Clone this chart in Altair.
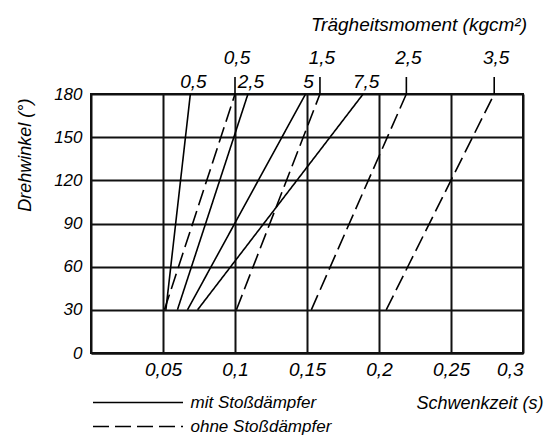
import altair as alt
import pandas as pd

# Data
solid_labels = ["0,5", "2,5", "5", "7,5"]          # Trägheitsmoment, mit Stoßdämpfer
solid_t30 = [0.052, 0.060, 0.067, 0.074]            # Schwenkzeit at 30°
solid_t180 = [0.069, 0.109, 0.149, 0.189]           # Schwenkzeit at 180°

dashed_labels = ["0,5", "1,5", "2,5", "3,5"]        # ohne Stoßdämpfer
dashed_t30 = [0.051, 0.101, 0.153, 0.205]
dashed_t180 = [0.100, 0.159, 0.219, 0.280]

angles = [30, 180]
x_ticks = [0.05, 0.1, 0.15, 0.2, 0.25, 0.3]
y_ticks = [0, 30, 60, 90, 120, 150, 180]

MIT = "mit Stoßdämpfer"
OHNE = "ohne Stoßdämpfer"

rows = []
for kind, labs, t0, t1 in [(MIT, solid_labels, solid_t30, solid_t180),
                           (OHNE, dashed_labels, dashed_t30, dashed_t180)]:
    for lab, a, b in zip(labs, t0, t1):
        rows.append({"typ": kind, "serie": kind + lab, "label": lab, "winkel": angles[0], "zeit": a})
        rows.append({"typ": kind, "serie": kind + lab, "label": lab, "winkel": angles[1], "zeit": b})
df = pd.DataFrame(rows)
ends = df[df["winkel"] == 180]

FONT = "Liberation Sans"

x_enc = alt.X("zeit:Q", scale=alt.Scale(domain=[0, 0.3], nice=False, zero=False),
              axis=alt.Axis(values=x_ticks, labelExpr="replace(toString(datum.value), '.', ',')",
                            title="Schwenkzeit (s)", titleAnchor="end", titleAlign="right",
                            titleX=452, titleY=50, titleBaseline="middle",
                            ticks=False, labelPadding=7, grid=True))
y_enc = alt.Y("winkel:Q", scale=alt.Scale(domain=[0, 180], nice=False),
              axis=alt.Axis(values=y_ticks, title="Drehwinkel (°)", titleAngle=270,
                            titleX=-66, titleY=4, titleAlign="right", titleBaseline="middle",
                            ticks=False, labelPadding=9, grid=True, labelFontSize=17))

lines = alt.Chart(df).mark_line(color="black", strokeWidth=1.6).encode(
    x=x_enc,
    y=y_enc,
    detail="serie:N",
    strokeDash=alt.StrokeDash(
        "typ:N",
        scale=alt.Scale(domain=[MIT, OHNE], range=[[1, 0], [16, 6]]),
        legend=alt.Legend(title=None, orient="none", legendX=-6.5, legendY=300, padding=0,
                          symbolType="M0,0H20", symbolSize=81, symbolStrokeWidth=1.6,
                          symbolStrokeColor="black", labelFontSize=17, labelFont=FONT,
                          labelFontStyle="italic", labelOffset=89, rowPadding=6,
                          labelColor="black"),
    ),
)

solid_text = alt.Chart(ends[ends["typ"] == MIT]).mark_text(
    font=FONT, fontStyle="italic", fontSize=19, dy=-12, dx=3, baseline="middle"
).encode(x="zeit:Q", y="winkel:Q", text="label:N")

dashed_text = alt.Chart(ends[ends["typ"] == OHNE]).mark_text(
    font=FONT, fontStyle="italic", fontSize=19, dy=-36, dx=2, baseline="middle"
).encode(x="zeit:Q", y="winkel:Q", text="label:N")

leaders = alt.Chart(ends[ends["typ"] == OHNE]).mark_rule(color="black", strokeWidth=1.6).encode(
    x="zeit:Q", y="winkel:Q", y2=alt.value(-17)
)

chart = alt.layer(lines, leaders, solid_text, dashed_text).properties(
    width=432, height=259,
    title=alt.TitleParams("Trägheitsmoment (kgcm²)", anchor="end", frame="group", font=FONT,
                          fontStyle="italic", fontSize=19, fontWeight="normal", offset=14, dx=4),
    autosize=alt.AutoSizeParams(type="none"),
    padding={"left": 83, "top": 86, "right": 24, "bottom": 83},
).configure_view(stroke="#111", strokeWidth=2).configure_axis(
    gridColor="#111", gridWidth=2, gridOpacity=1, domainColor="#111", domainWidth=2,
    labelFont=FONT, labelFontStyle="italic", labelFontSize=19, labelColor="black",
    titleFont=FONT, titleFontStyle="italic", titleFontSize=18, titleFontWeight="normal",
    titleColor="black",
)

chart.save("out.html", embed_options={"renderer": "svg", "actions": False})
